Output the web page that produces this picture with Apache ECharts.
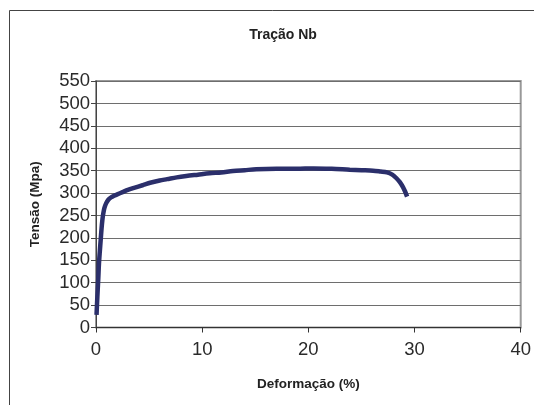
<!DOCTYPE html>
<html>
<head>
<meta charset="utf-8">
<script src="https://cdn.jsdelivr.net/npm/echarts@6/dist/echarts.min.js"></script>
<style>
  html, body { margin: 0; padding: 0; background: #fff; }
  #chart { width: 534px; height: 405px; }
</style>
</head>
<body>
<div id="chart"></div>
<script>
// Tensile test curve, niobium specimen: strain (%) vs stress (MPa)
var strain = [0.05, 0.10, 0.16, 0.22, 0.28, 0.36, 0.44, 0.52, 0.60, 0.69, 0.78, 0.95,
  1.16, 1.40, 1.70, 2.00, 2.50, 3.00, 3.50, 4.45, 5.10, 6.00, 6.70, 7.60, 8.50, 9.60,
  10.7, 11.8, 12.9, 14.0, 15.1, 17.0, 18.9, 20.5, 22.2, 23.9, 25.0, 26.1, 26.8, 27.4,
  27.9, 28.3, 28.6, 28.9, 29.1, 29.3];
var stress = [28, 55, 84, 112, 143, 170, 195, 220, 240, 255, 266, 277,
  285, 290, 294, 297, 302, 307, 311, 318, 323, 328, 331, 335, 338, 341,
  344, 346, 349, 351, 353, 354, 354, 355, 354, 352, 351, 350, 348, 346,
  341, 333, 325, 314, 304, 292];

var xTicks = [0, 10, 20, 30, 40];
var yTicks = [0, 50, 100, 150, 200, 250, 300, 350, 400, 450, 500, 550];

var points = strain.map(function (s, i) { return [s, stress[i]]; });

var chart = echarts.init(document.getElementById('chart'), null, { renderer: 'canvas' });
var font = 'Liberation Sans, Arial, sans-serif';

chart.setOption({
  animation: false,
  backgroundColor: '#ffffff',
  title: {
    text: 'Tração Nb',
    left: 278,
    top: 23,
    textAlign: 'center',
    textStyle: { fontFamily: font, fontSize: 14, fontWeight: 'bold', color: '#222' }
  },
  graphic: [{
    type: 'rect',
    shape: { x: 9.5, y: 10.5, width: 1000, height: 1000 },
    style: { fill: null, stroke: '#444', lineWidth: 1 },
    silent: true
  }],
  grid: {
    left: 96, right: 13, top: 81, bottom: 77.5,
    show: true, borderColor: '#999', borderWidth: 2, backgroundColor: 'transparent'
  },
  xAxis: {
    type: 'value',
    min: xTicks[0], max: xTicks[xTicks.length - 1], interval: 10,
    name: 'Deformação (%)',
    nameLocation: 'middle',
    nameGap: 50,
    nameTextStyle: { fontFamily: font, fontSize: 13.5, fontWeight: 'bold', color: '#222' },
    axisLine: { show: true, onZero: false, lineStyle: { color: '#333', width: 1 } },
    axisTick: { show: true, length: 5, lineStyle: { color: '#333' } },
    axisLabel: { fontFamily: font, fontSize: 18.5, color: '#2a2a2a', margin: 13 },
    splitLine: { show: false }
  },
  yAxis: {
    type: 'value',
    min: yTicks[0], max: yTicks[yTicks.length - 1], interval: 50,
    name: 'Tensão (Mpa)',
    nameLocation: 'middle',
    nameGap: 54,
    nameTextStyle: { fontFamily: font, fontSize: 13.5, fontWeight: 'bold', color: '#222' },
    axisLine: { show: true, lineStyle: { color: '#444', width: 1 } },
    axisTick: { show: true, length: 5, lineStyle: { color: '#444' } },
    axisLabel: { fontFamily: font, fontSize: 18.5, color: '#2a2a2a', margin: 6 },
    splitLine: { show: true, lineStyle: { color: '#6e6e6e', width: 1 } }
  },
  series: [{
    type: 'line',
    data: points,
    smooth: 0.3,
    showSymbol: false,
    lineStyle: { color: '#2b2f6b', width: 4.5 },
    clip: false
  }]
});
</script>
</body>
</html>
